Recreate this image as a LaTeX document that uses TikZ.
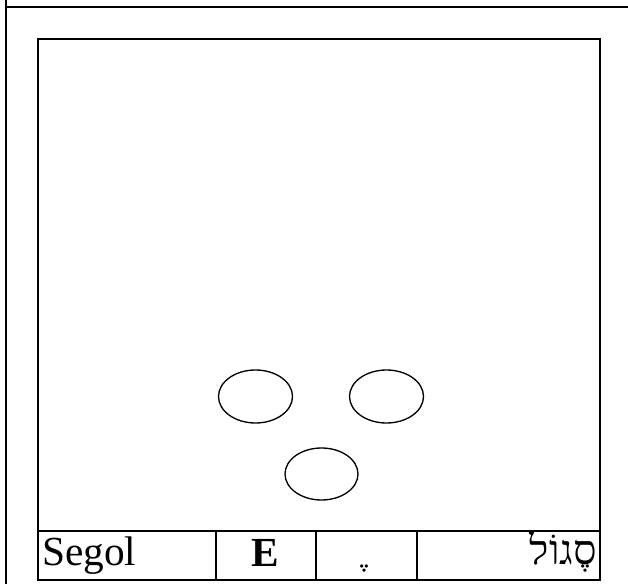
\documentclass[tikz,border=0pt]{standalone}
\usepackage{fontspec}
\setmainfont{Liberation Serif}
\newfontfamily\hebrewfont[Script=Hebrew]{Liberation Serif}
\TeXXeTstate=1
\usepackage{xcolor}

\begin{document}
\begin{tikzpicture}[x=0.75pt,y=0.75pt,yscale=-1,xscale=1]
\tikzset{frameline/.style={line width=1pt}, celltext/.style={inner sep=0pt,font=\fontsize{31}{36}\selectfont}}
\useasboundingbox (0,0) rectangle (628,584);
\draw [frameline] (6,0) -- (6,584) ;
\draw [frameline] (6,7) -- (628,7) ;
\draw [frameline] (38,39) -- (600,39) -- (600,580) -- (38,580) -- cycle ;
\draw [frameline] (38,531) -- (600,531) ;
\draw [frameline] (216,531) -- (216,580) ;
\draw [frameline] (316,531) -- (316,580) ;
\draw [frameline] (417,531) -- (417,580) ;
\draw [frameline] (255.5,396.5) ellipse (37 and 26.5) ;
\draw [frameline] (386.5,396.5) ellipse (37 and 26.5) ;
\draw [frameline] (321.5,474) ellipse (36.5 and 26) ;
\node (name) [celltext,anchor=base west] at (42,565) {Segol};
\node (letter) [celltext,anchor=base] at (265,566) {\bfseries E};
\node (point) [celltext,anchor=base] at (370,564) {\hebrewfont ^^^^00a0^^^^05b6};
\node (hebrew) [celltext,anchor=base east] at (597,564) {\hebrewfont\beginR סֶגוֹל\endR};
\end{tikzpicture}
\end{document}
